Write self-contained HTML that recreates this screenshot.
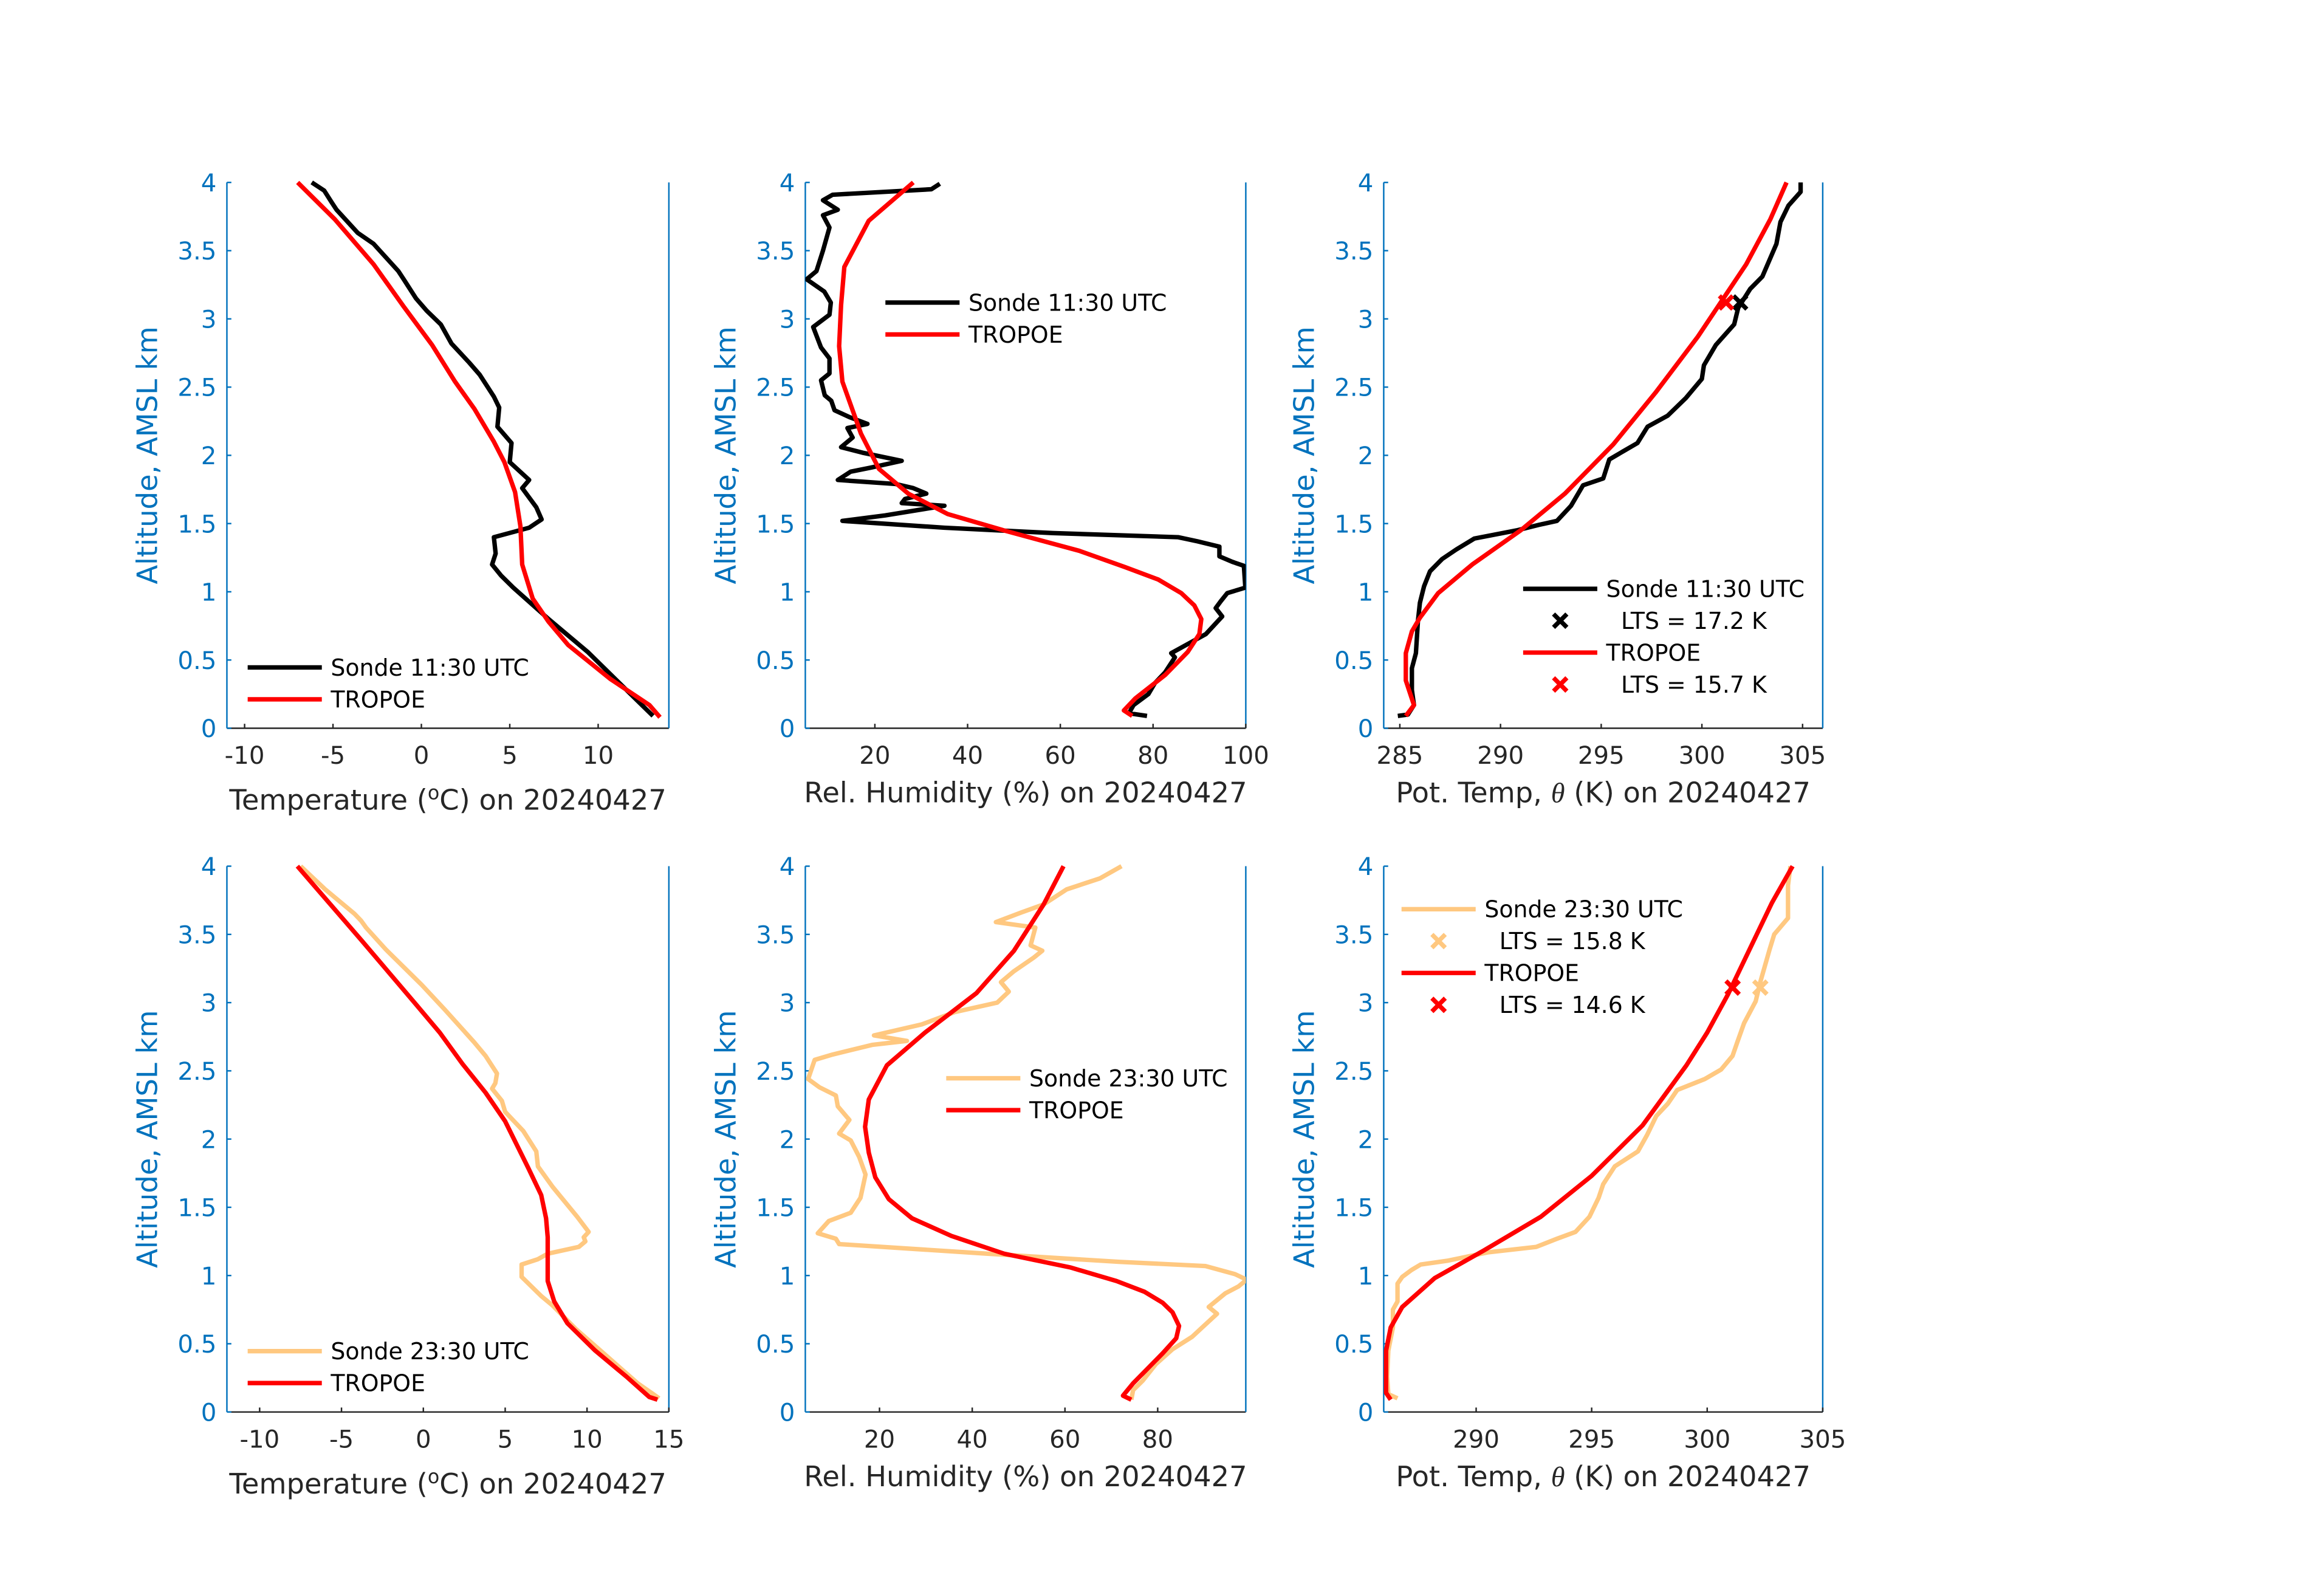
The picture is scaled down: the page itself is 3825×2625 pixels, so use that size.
<!DOCTYPE html>
<html><head><meta charset="utf-8">
<style>
html,body{margin:0;padding:0;background:#fff;}
svg{display:block;}
text{font-family:"DejaVu Sans","Liberation Sans",sans-serif;}
</style></head>
<body>
<svg id="fig" width="3825" height="2625" viewBox="0 0 1567 1075.4" preserveAspectRatio="none" xmlns="http://www.w3.org/2000/svg">
<rect width="1567" height="1076" fill="#fff"/>
</svg>
<script>
// ---- data: [value, altitude km] ----
const sondeT1=[[13.1,.09],[11.6,.28],[9.4,.56],[7.2,.80],[5.2,1.03],[4.5,1.12],[4.0,1.20],[4.2,1.28],[4.1,1.40],[6.1,1.47],[6.8,1.53],[6.5,1.62],[5.7,1.76],[6.1,1.82],[5.0,1.95],[5.1,2.09],[4.3,2.21],[4.4,2.35],[4.1,2.43],[3.3,2.59],[2.7,2.68],[1.7,2.82],[1.1,2.96],[0.3,3.06],[-0.3,3.15],[-1.0,3.29],[-1.3,3.35],[-2.7,3.55],[-3.6,3.63],[-4.8,3.80],[-5.1,3.86],[-5.5,3.94],[-6.2,4.0]];
const tropT1=[[13.5,.08],[12.9,.17],[10.7,.36],[8.3,.61],[7.2,.78],[6.3,.95],[5.7,1.20],[5.6,1.48],[5.3,1.73],[4.7,1.95],[4.1,2.10],[3.0,2.34],[1.9,2.54],[0.6,2.81],[-1.0,3.09],[-2.7,3.40],[-4.9,3.73],[-7.0,4.0]];
const sondeRH1=[[78.7,.09],[74.8,.11],[75.8,.17],[79.0,.25],[80.4,.33],[82.6,.41],[84.7,.52],[83.9,.55],[88.2,.63],[91.4,.69],[94.9,.82],[93.5,.88],[94.6,.93],[96.0,.99],[99.9,1.03],[99.6,1.19],[97.1,1.22],[94.3,1.26],[94.3,1.33],[89.6,1.37],[85.4,1.40],[58.4,1.43],[35.0,1.47],[13.0,1.52],[22.2,1.56],[35.0,1.63],[25.8,1.65],[26.5,1.68],[31.1,1.72],[28.3,1.76],[24.4,1.79],[12.0,1.82],[14.8,1.88],[19.1,1.91],[25.8,1.96],[17.3,2.02],[12.7,2.06],[15.2,2.13],[14.1,2.20],[18.4,2.23],[14.5,2.28],[11.3,2.33],[10.6,2.40],[9.2,2.44],[8.4,2.55],[10.2,2.60],[10.2,2.71],[8.4,2.79],[6.7,2.94],[10.2,3.03],[10.5,3.12],[9.1,3.20],[5.3,3.29],[7.4,3.35],[8.8,3.50],[10.2,3.67],[8.8,3.76],[12.0,3.80],[8.8,3.87],[10.9,3.91],[32.2,3.95],[34.0,3.99]];
const tropRH1=[[75.5,.09],[73.7,.13],[76.2,.22],[82.6,.39],[87.5,.56],[90.0,.69],[90.4,.80],[88.9,.90],[86.1,.99],[81.1,1.09],[74.0,1.18],[64.1,1.30],[47.8,1.45],[35.7,1.57],[27.2,1.72],[20.9,1.90],[17.0,2.16],[13.0,2.54],[12.3,2.80],[12.7,3.10],[13.4,3.38],[18.7,3.72],[28.3,4.0]];
const sondeTh1=[[284.9,.09],[285.4,.10],[285.7,.17],[285.6,.28],[285.6,.44],[285.8,.55],[285.9,.79],[286.0,.92],[286.2,1.04],[286.5,1.15],[287.1,1.24],[287.8,1.31],[288.7,1.39],[290.8,1.45],[291.9,1.49],[292.8,1.52],[293.5,1.63],[294.1,1.78],[295.1,1.83],[295.4,1.97],[296.1,2.03],[296.8,2.09],[297.3,2.21],[298.3,2.29],[299.2,2.42],[300.0,2.56],[300.1,2.66],[300.7,2.81],[301.6,2.96],[301.8,3.08],[302.4,3.22],[303.0,3.31],[303.7,3.55],[303.9,3.71],[304.3,3.83],[304.9,3.93],[304.9,4.0]];
const tropTh1=[[285.3,.09],[285.7,.17],[285.3,.35],[285.3,.55],[285.6,.71],[286.0,.81],[286.9,.99],[288.6,1.20],[291.0,1.45],[293.2,1.72],[295.6,2.08],[297.7,2.46],[299.8,2.87],[302.2,3.40],[303.4,3.73],[304.2,4.0]];
const ltsSonde1=[301.9,3.12], ltsTrop1=[301.2,3.12];
const sondeT2=[[14.4,.10],[14.05,.13],[13.1,.21],[11.2,.41],[9.3,.61],[7.9,.78],[7.2,.85],[6.0,.99],[6.0,1.08],[7.0,1.12],[7.6,1.16],[9.5,1.21],[9.9,1.25],[9.8,1.28],[10.1,1.32],[9.4,1.43],[7.9,1.65],[7.0,1.80],[6.9,1.91],[6.1,2.06],[5.0,2.20],[4.8,2.28],[4.2,2.37],[4.4,2.41],[4.5,2.48],[3.8,2.61],[3.1,2.71],[1.3,2.95],[-0.1,3.13],[-2.3,3.39],[-3.5,3.55],[-3.8,3.60],[-4.2,3.65],[-6.0,3.83],[-7.5,4.0]];
const tropT2=[[14.3,.09],[13.8,.11],[12.4,.26],[10.5,.45],[8.8,.65],[8.0,.81],[7.6,.96],[7.6,1.28],[7.5,1.42],[7.2,1.59],[6.4,1.79],[5.0,2.13],[3.8,2.34],[2.4,2.55],[1.0,2.78],[-0.4,2.98],[-3.8,3.46],[-7.7,4.0]];
const sondeRH2=[[74.3,.09],[74.7,.16],[76.8,.23],[79.6,.35],[83.2,.46],[87.4,.55],[89.6,.62],[92.8,.72],[91.0,.77],[94.6,.87],[97.4,.92],[99.2,.97],[96.7,1.01],[90.3,1.07],[71.8,1.10],[43.3,1.16],[11.3,1.23],[10.6,1.27],[6.7,1.31],[9.1,1.40],[13.8,1.46],[15.9,1.57],[17.0,1.74],[15.6,1.87],[13.8,1.99],[11.3,2.04],[13.5,2.14],[11.0,2.24],[10.6,2.32],[7.0,2.38],[4.6,2.44],[6.0,2.58],[9.9,2.62],[18.4,2.69],[25.9,2.72],[18.8,2.76],[29.1,2.84],[36.2,2.93],[45.4,3.00],[47.9,3.08],[46.2,3.15],[49.0,3.23],[53.3,3.33],[55.1,3.38],[52.6,3.42],[53.6,3.55],[45.1,3.59],[50.5,3.66],[55.4,3.72],[60.4,3.83],[67.5,3.91],[72.2,4.0]];
const tropRH2=[[74.3,.09],[72.5,.12],[74.7,.21],[81.1,.43],[84.0,.54],[84.6,.63],[83.2,.73],[81.1,.80],[77.2,.88],[71.1,.96],[61.1,1.06],[46.9,1.16],[35.5,1.29],[27.0,1.42],[22.0,1.56],[19.1,1.72],[17.7,1.90],[16.9,2.09],[17.7,2.29],[21.6,2.54],[29.8,2.78],[40.9,3.07],[49.0,3.38],[55.4,3.72],[59.7,4.0]];
const sondeTh2=[[286.6,.10],[286.2,.13],[286.15,.26],[286.2,.45],[286.4,.62],[286.4,.75],[286.6,.81],[286.6,.94],[286.8,.99],[287.2,1.04],[287.6,1.08],[288.8,1.11],[290.5,1.17],[292.6,1.21],[293.5,1.27],[294.3,1.32],[294.9,1.43],[295.3,1.57],[295.5,1.67],[296.0,1.80],[297.0,1.91],[297.4,2.03],[297.8,2.17],[298.3,2.26],[298.7,2.36],[299.9,2.44],[300.6,2.51],[301.1,2.61],[301.3,2.71],[301.6,2.85],[302.1,3.01],[302.3,3.15],[302.7,3.39],[302.9,3.50],[303.5,3.62],[303.5,3.86],[303.6,4.0]];
const tropTh2=[[286.3,.09],[286.1,.14],[286.1,.45],[286.3,.62],[286.8,.77],[288.2,.98],[290.3,1.18],[292.8,1.43],[295.0,1.73],[297.2,2.10],[299.1,2.54],[300.0,2.78],[300.9,3.06],[302.8,3.73],[303.7,4.0]];
const ltsSonde2=[302.3,3.11], ltsTrop2=[301.1,3.11];
const yTicks=[0,0.5,1,1.5,2,2.5,3,3.5,4];
const yTickLabels=["0","0.5","1","1.5","2","2.5","3","3.5","4"];
const xTicksT1=[-10,-5,0,5,10], xTicksRH1=[20,40,60,80,100], xTicksTh1=[285,290,295,300,305];
const xTicksT2=[-10,-5,0,5,10,15], xTicksRH2=[20,40,60,80], xTicksTh2=[290,295,300,305];

const NS='http://www.w3.org/2000/svg';
const svg=document.getElementById('fig');
function mk(tag,attrs,parent){const e=document.createElementNS(NS,tag);for(const k in attrs)e.setAttribute(k,attrs[k]);(parent||svg).appendChild(e);return e;}
const BLUE='#0072BD', ORANGE='#FFC880', DARK='#262626';

function panel(cfg){
  const g=mk('g',{});
  
  
  const L=cfg.x0,R=cfg.x1,T=cfg.y0,B=cfg.y1;
  const sx=v=>L+(v-cfg.xmin)/(cfg.xmax-cfg.xmin)*(R-L);
  const sy=a=>B-a/4*(B-T);
  const xa=mk('line',{x1:L,y1:B,x2:R,y2:B,stroke:DARK,'stroke-width':1},g);
  
  
  const yl=mk('line',{x1:L,y1:T,x2:L,y2:B,stroke:BLUE,'stroke-width':1},g);
  
  
  const yr=mk('line',{x1:R,y1:T,x2:R,y2:B,stroke:BLUE,'stroke-width':1},g);
  
  
  yTicks.forEach((v,i)=>{
    mk('line',{x1:L,y1:sy(v),x2:L+3,y2:sy(v),stroke:BLUE,'stroke-width':1},g);
    const t=mk('text',{x:L-7,y:sy(v)+6,'text-anchor':'end','font-size':16.5,fill:BLUE},g);
    t.textContent=yTickLabels[i];
    
    
  });
  cfg.xticks.forEach(v=>{
    mk('line',{x1:sx(v),y1:B,x2:sx(v),y2:B-3,stroke:DARK,'stroke-width':1},g);
    const t=mk('text',{x:sx(v),y:B+24,'text-anchor':'middle','font-size':16.5,fill:DARK},g);
    t.textContent=String(v);
    
    
  });
  const yt=mk('text',{x:0,y:0,'text-anchor':'middle','font-size':19,fill:BLUE,transform:`translate(${L-47},${(T+B)/2}) rotate(-90)`},g);
  yt.textContent='Altitude, AMSL km';
  
  
  const xt=mk('text',{x:(L+R)/2,y:B+cfg.titleDy,'text-anchor':'middle','font-size':19,fill:DARK},g);
  xt.innerHTML=cfg.xtitle;
  
  
  const cid='clip'+cfg.name;
  const cp=mk('clipPath',{id:cid},g);
  mk('rect',{x:L,y:T-2,width:R-L,height:B-T+4},cp);
  function line(data,color,name){
    const p=mk('polyline',{points:data.map(d=>sx(d[0]).toFixed(1)+','+sy(d[1]).toFixed(1)).join(' '),fill:'none',stroke:color,'stroke-width':3,'stroke-linejoin':'round','clip-path':`url(#${cid})`},g);
    
    
  }
  line(cfg.sonde,cfg.scol,'sonde-profile');
  line(cfg.trop,'#FF0000','tropoe-profile');
  function cross(x,y,c,name){
    const s=4.5;
    const m=mk('path',{d:`M${x-s},${y-s}L${x+s},${y+s}M${x-s},${y+s}L${x+s},${y-s}`,stroke:c,'stroke-width':3},g);
    
    
  }
  if(cfg.lts){
    cross(sx(cfg.lts[0][0]),sy(cfg.lts[0][1]),cfg.scol,'lts-marker-sonde');
    cross(sx(cfg.lts[1][0]),sy(cfg.lts[1][1]),'#FF0000','lts-marker-tropoe');
  }
  const lg=mk('g',{},g);
  
  
  const lx=cfg.lx, ly=cfg.ly;
  const items=cfg.lts?[['line',cfg.scol,cfg.slabel],['x',cfg.scol,cfg.ltsl[0]],['line','#FF0000','TROPOE'],['x','#FF0000',cfg.ltsl[1]]]:[['line',cfg.scol,cfg.slabel],['line','#FF0000','TROPOE']];
  items.forEach((it,i)=>{
    const y=ly+i*21.5;
    if(it[0]==='line'){
      const l=mk('line',{x1:lx,y1:y,x2:lx+50,y2:y,stroke:it[1],'stroke-width':3},lg);
      
      
      const t=mk('text',{x:lx+56,y:y+5.5,'font-size':15.5,fill:'#000'},lg);
      t.textContent=it[2];
      
      
    } else {
      cross(lx+25,y,it[1],'legend-marker');
      const t=mk('text',{x:lx+66,y:y+5.5,'font-size':15.5,fill:'#000'},lg);
      t.textContent=it[2];
      
      
    }
  });
}
const tT='Temperature (<tspan dy="-7" font-size="13">o</tspan><tspan dy="7">C) on 20240427</tspan>';
const tRH='Rel. Humidity (%) on 20240427';
const tTh='Pot. Temp, <tspan font-family="Liberation Serif" font-style="italic">θ</tspan> (K) on 20240427';
panel({name:'panel-temp-1130',x0:153,x1:451,y0:123,y1:491,xmin:-11,xmax:14,xticks:xTicksT1,xtitle:tT,titleDy:55,sonde:sondeT1,trop:tropT1,scol:'#000',slabel:'Sonde 11:30 UTC',lx:167,ly:450});
panel({name:'panel-rh-1130',x0:543,x1:840,y0:123,y1:491,xmin:5,xmax:100,xticks:xTicksRH1,xtitle:tRH,titleDy:50,sonde:sondeRH1,trop:tropRH1,scol:'#000',slabel:'Sonde 11:30 UTC',lx:597,ly:204});
panel({name:'panel-theta-1130',x0:933,x1:1229,y0:123,y1:491,xmin:284.2,xmax:306,xticks:xTicksTh1,xtitle:tTh,titleDy:50,sonde:sondeTh1,trop:tropTh1,scol:'#000',slabel:'Sonde 11:30 UTC',lx:1027,ly:397,lts:[ltsSonde1,ltsTrop1],ltsl:['LTS = 17.2 K','LTS = 15.7 K']});
panel({name:'panel-temp-2330',x0:153,x1:451,y0:584,y1:952,xmin:-12,xmax:15,xticks:xTicksT2,xtitle:tT,titleDy:55,sonde:sondeT2,trop:tropT2,scol:ORANGE,slabel:'Sonde 23:30 UTC',lx:167,ly:911});
panel({name:'panel-rh-2330',x0:543,x1:840,y0:584,y1:952,xmin:4,xmax:99,xticks:xTicksRH2,xtitle:tRH,titleDy:50,sonde:sondeRH2,trop:tropRH2,scol:ORANGE,slabel:'Sonde 23:30 UTC',lx:638,ly:727});
panel({name:'panel-theta-2330',x0:933,x1:1229,y0:584,y1:952,xmin:286,xmax:305,xticks:xTicksTh2,xtitle:tTh,titleDy:50,sonde:sondeTh2,trop:tropTh2,scol:ORANGE,slabel:'Sonde 23:30 UTC',lx:945,ly:613,lts:[ltsSonde2,ltsTrop2],ltsl:['LTS = 15.8 K','LTS = 14.6 K']});
</script>
</body></html>
